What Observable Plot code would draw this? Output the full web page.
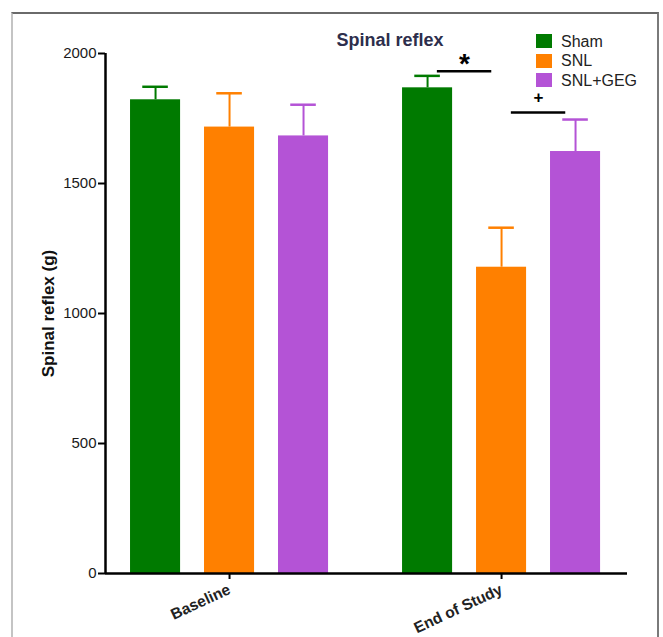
<!DOCTYPE html>
<html>
<head>
<meta charset="utf-8">
<script src="https://cdn.jsdelivr.net/npm/d3@7"></script>
<script src="https://cdn.jsdelivr.net/npm/@observablehq/plot@0.6"></script>
<style>
  html, body { margin: 0; padding: 0; background: #fff; }
  #wrap { position: relative; width: 663px; height: 637px; overflow: hidden; font-family: "Liberation Sans", Arial, sans-serif; }
  #frame { position: absolute; left: 11px; top: 12px; width: 648px; height: 660px;
           border-left: 2px solid #c4c4c4; border-top: 2px solid #6a6a6a; border-right: 2px solid #7a7a7a; box-sizing: border-box; }
  #chart { position: absolute; left: 0; top: 0; }
  #title { position: absolute; left: 290px; width: 200px; top: 31px; text-align: center; font-weight: bold; font-size: 18px; line-height: 18px; color: #2d2e4c; }
  .leg { position: absolute; left: 536px; height: 15px; display: flex; align-items: center; font-size: 16px; line-height: 15px; color: #222; }
  .sw { width: 16px; height: 14px; margin-right: 9px; }
</style>
</head>
<body>
<div id="wrap">
  <div id="frame"></div>
  <div id="chart"></div>
  <div id="title"></div>
</div>
<script>
const chartTitle = "Spinal reflex";
const yLabel = "Spinal reflex (g)";
const groups = ["Baseline", "End of Study"];
const series = ["Sham", "SNL", "SNL+GEG"];
const colors = ["#007a00", "#ff8000", "#b453d6"];
const meanBaseline = [1822, 1717, 1683];
const semBaseline = [50, 130, 120];
const meanEnd = [1868, 1178, 1623];
const semEnd = [46, 152, 123];
const yTicks = [0, 500, 1000, 1500, 2000];
const sigLabels = ["*", "+"];
const sigGroup = ["End of Study", "End of Study"];
const sigFrom = ["Sham", "SNL"];
const sigTo = ["SNL", "SNL+GEG"];
const sigY = [1932, 1773];

// layout constants (in x units, one unit = distance between group centres)
const barStep = 0.272, barHalf = 0.092, capHalf = 0.047, sigHalf = 0.1;
const xMin = -0.456, xMax = 1.463;

const means = [meanBaseline, meanEnd];
const sems = [semBaseline, semEnd];
const data = [];
groups.forEach((g, gi) => series.forEach((s, si) => {
  data.push({group: g, series: s, value: means[gi][si], err: sems[gi][si],
             cx: gi + (si - 1) * barStep});
}));
const sig = sigLabels.map((t, i) => {
  const gi = groups.indexOf(sigGroup[i]);
  const a = gi + (series.indexOf(sigFrom[i]) - 1) * barStep;
  const b = gi + (series.indexOf(sigTo[i]) - 1) * barStep;
  return {label: t, mid: (a + b) / 2, y: sigY[i]};
});

const plot = Plot.plot({
  width: 663,
  height: 637,
  marginLeft: 105,
  marginRight: 36,
  marginTop: 53,
  marginBottom: 64,
  style: {fontFamily: "Liberation Sans, Arial, sans-serif", background: "transparent", color: "#000"},
  x: {domain: [xMin, xMax], axis: null},
  y: {domain: [0, 2000], axis: null},
  color: {domain: series, range: colors},
  marks: [
    Plot.rectY(data, {x1: d => d.cx - barHalf, x2: d => d.cx + barHalf, y1: 0, y2: "value", fill: "series"}),
    Plot.ruleX(data, {x: "cx", y1: "value", y2: d => d.value + d.err, stroke: "series", strokeWidth: 2}),
    Plot.ruleY(data, {x1: d => d.cx - capHalf, x2: d => d.cx + capHalf, y: d => d.value + d.err, stroke: "series", strokeWidth: 2.5}),
    Plot.ruleY([0], {stroke: "#000", strokeWidth: 2.5}),
    Plot.ruleX([xMin], {stroke: "#000", strokeWidth: 2.5}),
    Plot.axisY({ticks: yTicks, tickSize: 7, tickPadding: 2, strokeWidth: 2, fontSize: 15, fill: "#1a1a1a", label: null, tickFormat: d => String(d)}),
    Plot.axisX({ticks: [0, 1], tickSize: 6, strokeWidth: 2, tickFormat: i => groups[i], tickRotate: -25,
                fontSize: 15.5, fontWeight: "bold", fill: "#222", label: null, tickPadding: 9}),
    Plot.text([yLabel], {frameAnchor: "left", dx: -57, rotate: -90, fontSize: 17, fontWeight: "bold", fill: "#111", textAnchor: "middle", lineAnchor: "middle"}),
    Plot.ruleY(sig, {x1: d => d.mid - sigHalf, x2: d => d.mid + sigHalf, y: "y", stroke: "#000", strokeWidth: 2.5}),
    Plot.text(sig.filter(d => d.label === "*"), {x: "mid", y: "y", text: "label", fontSize: 28, fontWeight: "bold", lineAnchor: "top", dy: -18}),
    Plot.text(sig.filter(d => d.label === "+"), {x: "mid", y: "y", text: "label", fontSize: 17, fontWeight: "bold", lineAnchor: "middle", dy: -15})
  ]
});
document.getElementById("chart").appendChild(plot);
document.getElementById("title").textContent = chartTitle;

const legTops = [33.5, 53, 72.5];
series.forEach((s, i) => {
  const row = document.createElement("div");
  row.className = "leg";
  row.style.top = legTops[i] + "px";
  const sw = document.createElement("div");
  sw.className = "sw";
  sw.style.background = colors[i];
  row.appendChild(sw);
  row.appendChild(document.createTextNode(s));
  document.getElementById("wrap").appendChild(row);
});
</script>
</body>
</html>
